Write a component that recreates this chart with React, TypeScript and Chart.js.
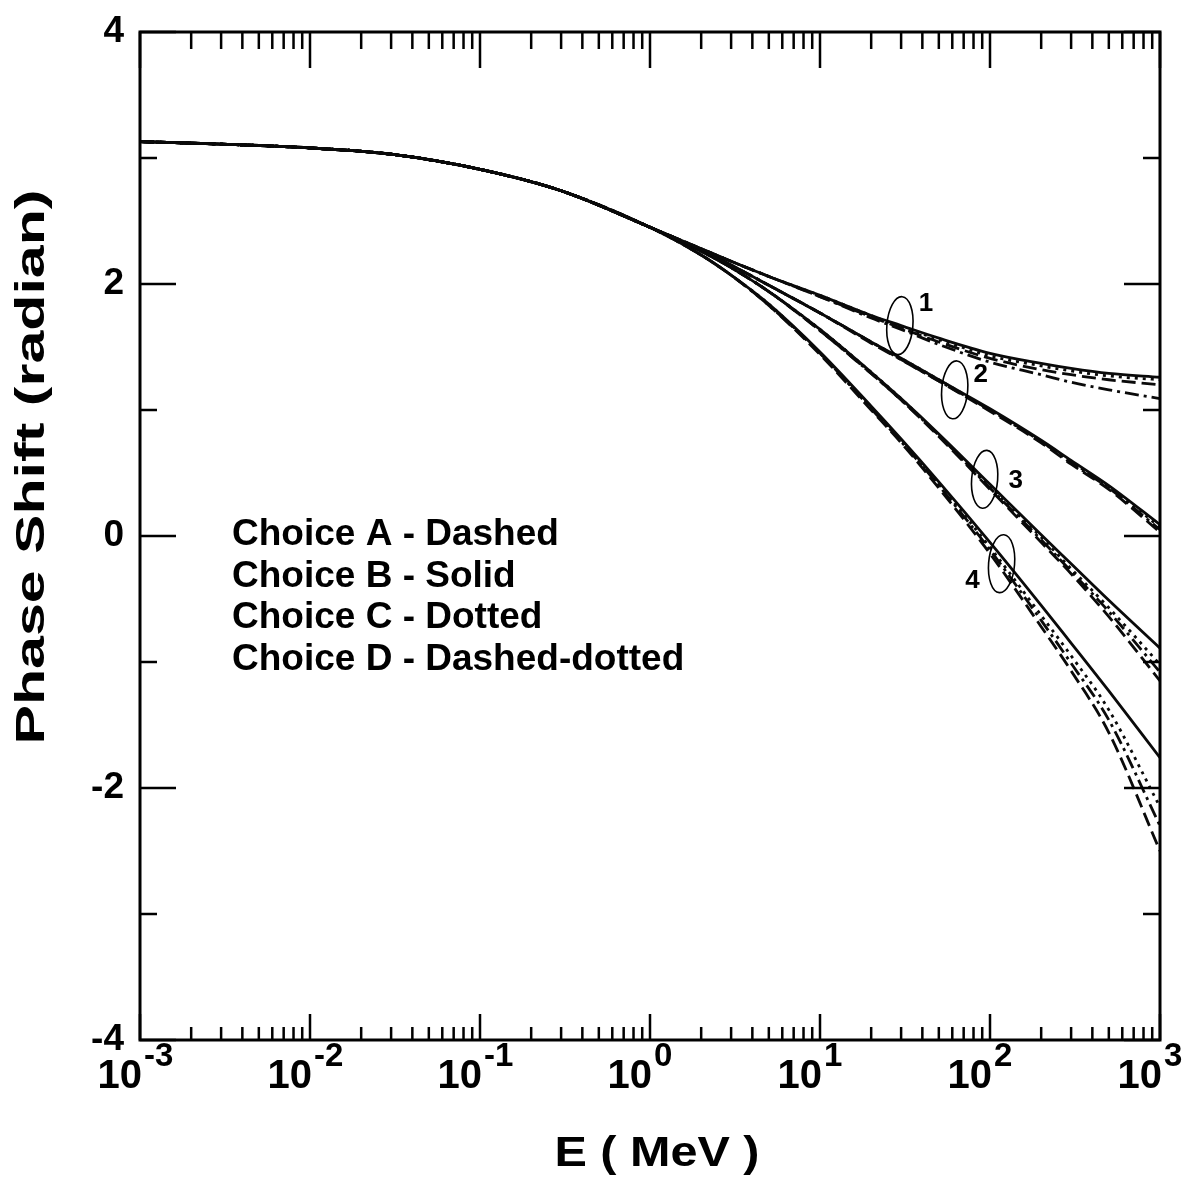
import React, { useEffect, useRef } from "react";
import { Chart, registerables } from "chart.js";

Chart.register(...registerables);

// ---------- data ----------
const energies = [1e-3, 3e-3, 1e-2, 3e-2, 0.1, 0.3, 1, 2, 3, 5, 10, 20, 30, 50, 100, 200, 300, 500, 1000];
// shared low-energy part (E <= 1 MeV), identical for every curve
const commonPart = [3.13, 3.11, 3.08, 3.03, 2.91, 2.74, 2.45];

// tails for E = 2 ... 1000 MeV
const c1A = [2.28, 2.18, 2.06, 1.90, 1.74, 1.65, 1.54, 1.41, 1.32, 1.28, 1.24, 1.20];
const c1B = [2.28, 2.18, 2.06, 1.91, 1.75, 1.67, 1.57, 1.45, 1.37, 1.33, 1.29, 1.26];
const c1C = [2.28, 2.18, 2.06, 1.91, 1.75, 1.66, 1.56, 1.43, 1.35, 1.31, 1.27, 1.24];
const c1D = [2.28, 2.18, 2.06, 1.90, 1.73, 1.64, 1.52, 1.38, 1.28, 1.22, 1.16, 1.09];

const c2A = [2.27, 2.15, 1.99, 1.77, 1.53, 1.40, 1.23, 0.99, 0.74, 0.57, 0.37, 0.03];
const c2B = [2.27, 2.15, 1.99, 1.77, 1.54, 1.41, 1.24, 1.01, 0.76, 0.60, 0.40, 0.09];
const c2C = [2.27, 2.15, 1.99, 1.77, 1.54, 1.41, 1.24, 1.00, 0.75, 0.59, 0.39, 0.07];
const c2D = [2.27, 2.15, 1.99, 1.77, 1.54, 1.40, 1.23, 1.00, 0.75, 0.58, 0.38, 0.05];

const c3A = [2.26, 2.13, 1.94, 1.63, 1.29, 1.08, 0.79, 0.37, -0.05, -0.30, -0.64, -1.15];
const c3B = [2.26, 2.13, 1.94, 1.64, 1.30, 1.09, 0.81, 0.41, 0.01, -0.22, -0.51, -0.89];
const c3C = [2.26, 2.13, 1.94, 1.64, 1.30, 1.09, 0.80, 0.39, -0.01, -0.26, -0.57, -1.02];
const c3D = [2.26, 2.13, 1.94, 1.63, 1.29, 1.08, 0.80, 0.38, -0.03, -0.28, -0.60, -1.08];

const c4A = [2.23, 2.07, 1.83, 1.44, 1.00, 0.74, 0.38, -0.14, -0.72, -1.07, -1.56, -2.50];
const c4B = [2.23, 2.07, 1.84, 1.46, 1.03, 0.77, 0.43, -0.05, -0.55, -0.85, -1.23, -1.76];
const c4C = [2.23, 2.07, 1.84, 1.45, 1.02, 0.76, 0.41, -0.09, -0.63, -0.95, -1.38, -2.15];
const c4D = [2.23, 2.07, 1.83, 1.45, 1.01, 0.75, 0.40, -0.11, -0.67, -1.01, -1.46, -2.30];

const legendLines = [
  "Choice A - Dashed",
  "Choice B - Solid",
  "Choice C - Dotted",
  "Choice D - Dashed-dotted",
];

const xTickExponents = [-3, -2, -1, 0, 1, 2, 3];
const yTickLabels = [4, 2, 0, -2, -4];
const curveLabels = ["1", "2", "3", "4"];
const curveLabelE = [29.5, 62, 93, 117];
const curveLabelVal = [1.67, 1.16, 0.45, -0.22];

const xTitle = "E ( MeV )";
const yTitle = "Phase Shift (radian)";

// ---------- styles ----------
const FONT = '"Liberation Sans", Arial, Helvetica, sans-serif';
const dashA = [14, 6];
const dashC = [3, 5];
const dashD = [14, 5, 3, 5];

function series(tail: number[]) {
  const vals = commonPart.concat(tail);
  return energies.map((e, i) => ({ x: e, y: vals[i] }));
}

function ds(label: string, tail: number[], dash: number[]) {
  return {
    label,
    data: series(tail),
    borderColor: "#0a0a0a",
    borderWidth: 2.8,
    borderDash: dash,
    pointRadius: 0,
    fill: false,
    cubicInterpolationMode: "monotone" as const,
  };
}

const decorPlugin = {
  id: "decor",
  afterDraw(chart: any) {
    const { ctx, chartArea: a, scales } = chart;
    const x = scales.x;
    const y = scales.y;
    ctx.save();
    ctx.strokeStyle = "#000";
    ctx.fillStyle = "#000";

    // frame
    ctx.lineWidth = 3;
    ctx.strokeRect(a.left, a.top, a.right - a.left, a.bottom - a.top);

    // x ticks (inside, top and bottom)
    ctx.lineWidth = 2.5;
    for (let d = -3; d <= 3; d++) {
      for (let m = 1; m <= 9; m++) {
        if (d === 3 && m > 1) break;
        const px = x.getPixelForValue(m * Math.pow(10, d));
        const major = m === 1;
        const lt = major ? 36 : 17;
        const lb = major ? 26 : 13;
        ctx.beginPath();
        ctx.moveTo(px, a.top);
        ctx.lineTo(px, a.top + lt);
        ctx.moveTo(px, a.bottom);
        ctx.lineTo(px, a.bottom - lb);
        ctx.stroke();
      }
    }
    // y ticks (inside, left and right)
    for (let v = -4; v <= 4; v++) {
      const py = y.getPixelForValue(v);
      const len = v % 2 === 0 ? 36 : 17;
      ctx.beginPath();
      ctx.moveTo(a.left, py);
      ctx.lineTo(a.left + len, py);
      ctx.moveTo(a.right, py);
      ctx.lineTo(a.right - len, py);
      ctx.stroke();
    }

    // y tick labels
    ctx.font = `bold 37px ${FONT}`;
    ctx.textAlign = "right";
    ctx.textBaseline = "middle";
    yTickLabels.forEach((v) => {
      ctx.fillText(String(v), a.left - 16, y.getPixelForValue(v));
    });

    // x tick labels 10^n
    ctx.textBaseline = "alphabetic";
    xTickExponents.forEach((n) => {
      const px = x.getPixelForValue(Math.pow(10, n));
      ctx.font = `bold 40px ${FONT}`;
      ctx.textAlign = "right";
      ctx.fillText("10", px + 2, a.bottom + 48);
      ctx.font = `bold 33px ${FONT}`;
      ctx.textAlign = "left";
      ctx.fillText(String(n), px + 4, a.bottom + 26);
    });

    // axis titles (fitted widths)
    ctx.font = `bold 42px ${FONT}`;
    ctx.textAlign = "center";
    let w = ctx.measureText(xTitle).width;
    ctx.save();
    ctx.translate(657, 1166);
    ctx.scale(205 / w, 1);
    ctx.fillText(xTitle, 0, 0);
    ctx.restore();

    ctx.font = `bold 40px ${FONT}`;
    w = ctx.measureText(yTitle).width;
    ctx.save();
    ctx.translate(44, 467);
    ctx.rotate(-Math.PI / 2);
    ctx.scale(555 / w, 1);
    ctx.fillText(yTitle, 0, 0);
    ctx.restore();

    // legend text
    ctx.font = `bold 37px ${FONT}`;
    ctx.textAlign = "left";
    legendLines.forEach((t, i) => {
      ctx.fillText(t, 232, 545 + i * 41.5);
    });

    // curve labels with ellipses
    const offs = [
      [26, -22],
      [26, -15],
      [31, 2],
      [-29, 17],
    ];
    curveLabels.forEach((lab, i) => {
      const cx = x.getPixelForValue(curveLabelE[i]);
      const cy = y.getPixelForValue(curveLabelVal[i]);
      ctx.lineWidth = 1.6;
      ctx.beginPath();
      ctx.ellipse(cx, cy, 13, 29, 0.08, 0, Math.PI * 2);
      ctx.stroke();
      ctx.font = `bold 26px ${FONT}`;
      ctx.textAlign = "center";
      ctx.textBaseline = "middle";
      ctx.fillText(lab, cx + offs[i][0], cy + offs[i][1]);
    });
    ctx.restore();
  },
};

export default function App() {
  const ref = useRef<HTMLCanvasElement>(null);
  useEffect(() => {
    if (!ref.current) return;
    const chart = new Chart(ref.current, {
      type: "line",
      data: {
        datasets: [
          ds("1A", c1A, dashA), ds("1B", c1B, []), ds("1C", c1C, dashC), ds("1D", c1D, dashD),
          ds("2A", c2A, dashA), ds("2B", c2B, []), ds("2C", c2C, dashC), ds("2D", c2D, dashD),
          ds("3A", c3A, dashA), ds("3B", c3B, []), ds("3C", c3C, dashC), ds("3D", c3D, dashD),
          ds("4A", c4A, dashA), ds("4B", c4B, []), ds("4C", c4C, dashC), ds("4D", c4D, dashD),
        ],
      },
      options: {
        animation: false,
        responsive: false,
        devicePixelRatio: 1,
        layout: { padding: { left: 140, right: 31, top: 32, bottom: 148 } },
        plugins: { legend: { display: false }, tooltip: { enabled: false } },
        scales: {
          x: { type: "logarithmic", min: 1e-3, max: 1e3, display: false },
          y: { type: "linear", min: -4, max: 4, display: false },
        },
      },
      plugins: [decorPlugin],
    });
    return () => chart.destroy();
  }, []);
  return (
    <div style={{ position: "fixed", left: 0, top: 0, width: 1191, height: 1188, background: "#fff" }}>
      <canvas ref={ref} width={1191} height={1188} style={{ width: 1191, height: 1188 }} />
    </div>
  );
}
